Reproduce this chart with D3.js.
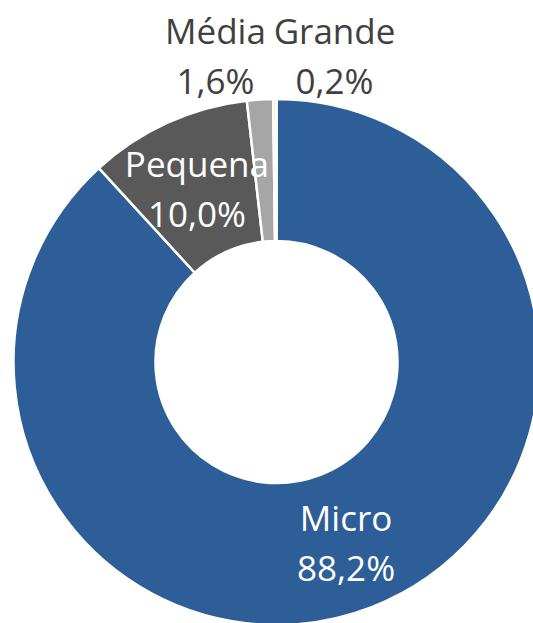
<!DOCTYPE html>
<html>
<head>
<meta charset="utf-8">
<script src="https://cdn.jsdelivr.net/npm/d3@7"></script>
<style>
  body { margin: 0; background: #fff; }
  svg { display: block; }
  text { font-family: "Open Sans", "Noto Sans", sans-serif; }
</style>
</head>
<body>
<div class="container"></div>
<script>
const categories = ["Micro", "Pequena", "Média", "Grande"];
const values = [88.2, 10.0, 1.6, 0.2];
const valueLabels = ["88,2%", "10,0%", "1,6%", "0,2%"];
const colors = ["#2E5E98", "#595959", "#A6A6A6", "#FFE699"];

const w = 533;
const h = 623;
const cx = 276.5;
const cy = 362;
const outerR = 263;
const innerR = 121;

// small slices get their labels outside, above the ring
const outsideOffset = { "Média": [-61, -308], "Grande": [58, -308] };

const dataset = categories.map((c, i) => ({ name: c, value: values[i], label: valueLabels[i], color: colors[i] }));

const svg = d3.select(".container")
              .append("svg")
              .attr("width", w)
              .attr("height", h);

const pie = d3.pie()
              .value(d => d.value)
              .sort(null);

const arc = d3.arc()
              .innerRadius(innerR)
              .outerRadius(outerR);

const g = svg.append("g")
             .attr("transform", "translate(" + cx + "," + cy + ")");

const arcs = pie(dataset);

g.selectAll("path")
 .data(arcs)
 .enter()
 .append("path")
 .attr("d", arc)
 .attr("fill", d => d.data.color)
 .attr("stroke", "#fff")
 .attr("stroke-width", 2.5);

const labels = g.selectAll("text.lbl")
  .data(arcs)
  .enter()
  .append("text")
  .attr("class", "lbl")
  .attr("text-anchor", "middle")
  .attr("font-size", 35)
  .attr("fill", d => outsideOffset[d.data.name] ? "#404040" : "#fff")
  .attr("transform", d => {
      let p = outsideOffset[d.data.name] ? outsideOffset[d.data.name] : arc.centroid(d);
      return "translate(" + p[0] + "," + (p[1] + 2) + ")";
  });

labels.append("tspan")
  .attr("x", 0)
  .attr("dy", "-0.35em")
  .text(d => d.data.name);

labels.append("tspan")
  .attr("x", 0)
  .attr("dy", "1.43em")
  .text(d => d.data.label);
</script>
</body>
</html>
